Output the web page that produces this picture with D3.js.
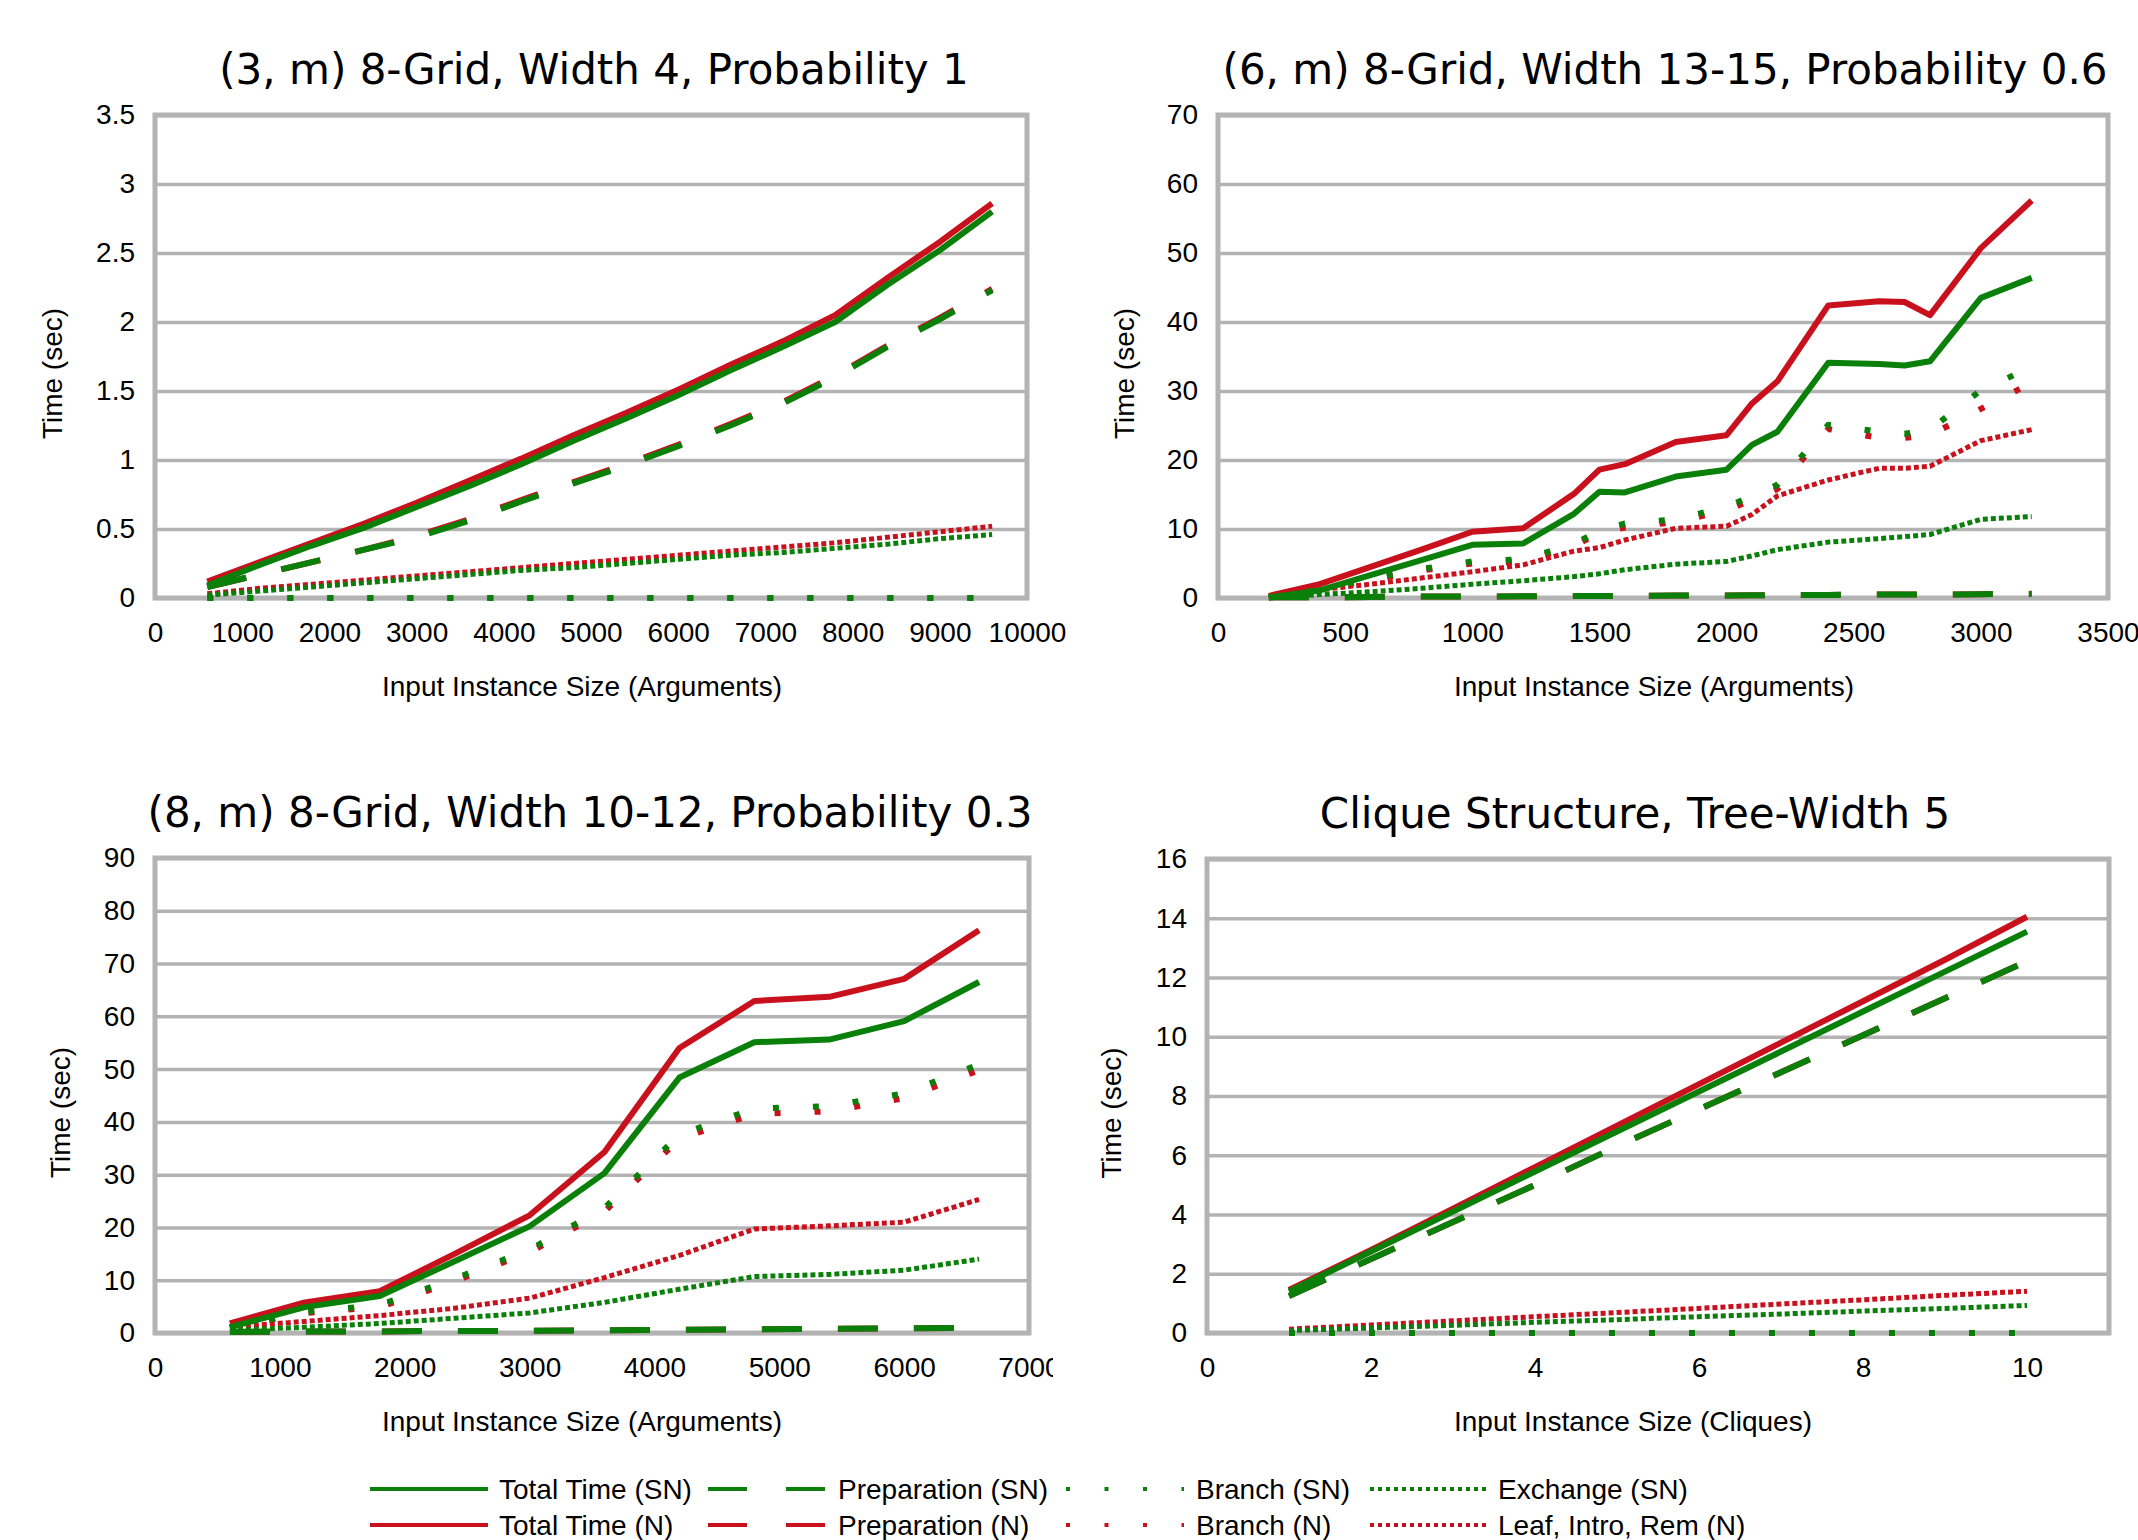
<!DOCTYPE html>
<html>
<head>
<meta charset="utf-8">
<script src="https://cdn.jsdelivr.net/npm/d3@7"></script>
<style>
  body { margin: 0; background: #fff; }
  svg { display: block; }
</style>
</head>
<body>
<svg id="chart" width="2138" height="1540"></svg>
<script>
// ---- data ----

// (3, m) 8-Grid, Width 4, Probability 1
const p1X = [600, 1200, 1800, 2400, 3000, 3600, 4200, 4800, 5400, 6000, 6600, 7200, 7800, 8400, 9000, 9600];
const p1TotalSN = [0.09, 0.24, 0.38, 0.51, 0.66, 0.81, 0.97, 1.14, 1.30, 1.47, 1.65, 1.82, 2.00, 2.27, 2.52, 2.80];
const p1TotalN = [0.12, 0.26, 0.40, 0.54, 0.69, 0.85, 1.01, 1.18, 1.34, 1.51, 1.69, 1.86, 2.05, 2.32, 2.58, 2.86];
const p1PrepSN = [0.08, 0.17, 0.26, 0.35, 0.44, 0.56, 0.70, 0.83, 0.96, 1.10, 1.25, 1.41, 1.60, 1.82, 2.02, 2.23];
const p1PrepN = [0.08, 0.17, 0.26, 0.35, 0.45, 0.57, 0.71, 0.84, 0.97, 1.11, 1.26, 1.42, 1.61, 1.83, 2.03, 2.24];
const p1BranchSN = [0, 0, 0, 0, 0, 0, 0, 0, 0, 0, 0, 0, 0, 0, 0, 0];
const p1BranchN = [0, 0, 0, 0, 0, 0, 0, 0, 0, 0, 0, 0, 0, 0, 0, 0];
const p1ExchSN = [0.02, 0.05, 0.08, 0.11, 0.14, 0.17, 0.20, 0.22, 0.25, 0.28, 0.31, 0.33, 0.36, 0.39, 0.43, 0.46];
const p1LeafN = [0.03, 0.07, 0.10, 0.13, 0.16, 0.19, 0.22, 0.25, 0.28, 0.31, 0.34, 0.37, 0.40, 0.44, 0.48, 0.52];
const p1XTicks = [0, 1000, 2000, 3000, 4000, 5000, 6000, 7000, 8000, 9000, 10000];
const p1YTicks = [0, 0.5, 1, 1.5, 2, 2.5, 3, 3.5];

// (6, m) 8-Grid, Width 13-15, Probability 0.6
const p2X = [200, 400, 600, 800, 1000, 1200, 1400, 1500, 1600, 1800, 2000, 2100, 2200, 2400, 2600, 2700, 2800, 3000, 3200];
const p2TotalSN = [0.1, 1.1, 3.3, 5.5, 7.7, 7.9, 12.2, 15.4, 15.3, 17.6, 18.6, 22.2, 24.1, 34.1, 33.9, 33.7, 34.3, 43.5, 46.4];
const p2TotalN = [0.3, 2.0, 4.5, 7.0, 9.6, 10.1, 15.1, 18.6, 19.4, 22.6, 23.6, 28.2, 31.4, 42.4, 43.0, 42.9, 41.0, 50.7, 57.6];
const p2PrepSN = [0.1, 0.1, 0.15, 0.2, 0.2, 0.25, 0.3, 0.3, 0.3, 0.35, 0.35, 0.4, 0.4, 0.45, 0.5, 0.5, 0.5, 0.55, 0.6];
const p2PrepN = [0.1, 0.1, 0.15, 0.2, 0.2, 0.25, 0.3, 0.3, 0.3, 0.35, 0.35, 0.4, 0.4, 0.45, 0.5, 0.5, 0.5, 0.55, 0.6];
const p2BranchSN = [0.1, 1.2, 2.8, 4.2, 5.3, 5.6, 7.8, 9.8, 10.8, 11.4, 13.2, 14.8, 16.4, 25.1, 24.1, 23.8, 24.4, 30.1, 33.5];
const p2BranchN = [0.1, 1.1, 2.6, 4.0, 5.0, 5.3, 7.5, 9.5, 10.2, 11.0, 12.7, 14.2, 15.8, 24.5, 23.2, 23.2, 23.6, 27.4, 31.2];
const p2ExchSN = [0.0, 0.5, 0.9, 1.4, 2.0, 2.5, 3.1, 3.5, 4.1, 4.9, 5.3, 6.1, 7.0, 8.1, 8.6, 8.9, 9.2, 11.4, 11.8];
const p2LeafN = [0.2, 1.2, 2.0, 2.9, 3.8, 4.8, 6.8, 7.3, 8.4, 10.1, 10.4, 12.1, 14.8, 17.1, 18.8, 18.8, 19.1, 22.8, 24.4];
const p2XTicks = [0, 500, 1000, 1500, 2000, 2500, 3000, 3500];
const p2YTicks = [0, 10, 20, 30, 40, 50, 60, 70];

// (8, m) 8-Grid, Width 10-12, Probability 0.3
const p3X = [600, 1200, 1800, 2400, 3000, 3600, 4200, 4800, 5400, 6000, 6600];
const p3TotalSN = [1.1, 4.9, 7.0, 13.6, 20.2, 30.3, 48.4, 55.1, 55.6, 59.1, 66.5];
const p3TotalN = [1.8, 5.8, 7.9, 15.0, 22.3, 34.3, 54.0, 62.9, 63.7, 67.1, 76.3];
const p3PrepSN = [0.2, 0.3, 0.3, 0.4, 0.4, 0.5, 0.6, 0.7, 0.8, 0.9, 1.0];
const p3PrepN = [0.2, 0.3, 0.3, 0.4, 0.4, 0.5, 0.6, 0.7, 0.8, 0.9, 1.0];
const p3BranchSN = [1.0, 4.0, 5.3, 10.3, 15.8, 23.7, 37.6, 42.5, 43.0, 45.4, 50.9];
const p3BranchN = [1.0, 3.8, 4.9, 9.8, 15.3, 23.0, 36.8, 41.5, 42.0, 44.5, 49.8];
const p3ExchSN = [0.5, 1.1, 1.8, 2.8, 3.8, 5.8, 8.3, 10.7, 11.1, 11.9, 14.0];
const p3LeafN = [1.1, 2.2, 3.3, 4.7, 6.6, 10.5, 14.7, 19.7, 20.3, 21.0, 25.3];
const p3XTicks = [0, 1000, 2000, 3000, 4000, 5000, 6000, 7000];
const p3YTicks = [0, 10, 20, 30, 40, 50, 60, 70, 80, 90];

// Clique Structure, Tree-Width 5
const p4X = [1, 2, 3, 4, 5, 6, 7, 8, 9, 10];
const p4TotalSN = [1.4, 2.75, 4.1, 5.45, 6.8, 8.15, 9.5, 10.85, 12.2, 13.55];
const p4TotalN = [1.45, 2.8, 4.2, 5.6, 7.0, 8.4, 9.8, 11.2, 12.6, 14.05];
const p4PrepSN = [1.25, 2.5, 3.75, 5.0, 6.3, 7.55, 8.8, 10.05, 11.3, 12.55];
const p4PrepN = [1.25, 2.5, 3.75, 5.0, 6.3, 7.55, 8.8, 10.05, 11.3, 12.55];
const p4BranchSN = [0, 0, 0, 0, 0, 0, 0, 0, 0, 0];
const p4BranchN = [0, 0, 0, 0, 0, 0, 0, 0, 0, 0];
const p4ExchSN = [0.08, 0.17, 0.26, 0.36, 0.45, 0.55, 0.64, 0.74, 0.83, 0.93];
const p4LeafN = [0.13, 0.27, 0.41, 0.55, 0.69, 0.83, 0.98, 1.12, 1.27, 1.41];
const p4XTicks = [0, 2, 4, 6, 8, 10];
const p4YTicks = [0, 2, 4, 6, 8, 10, 12, 14, 16];

const legendRows = [
    ["Total Time (SN)", "Preparation (SN)", "Branch (SN)", "Exchange (SN)"],
    ["Total Time (N)", "Preparation (N)", "Branch (N)", "Leaf, Intro, Rem (N)"]
];

// ---- styles ----
const GREEN = "#0a800a";
const RED = "#c9111e";
const GRID = "#b3b3b3";
const SANS = "'Liberation Sans', Arial, sans-serif";
const TITLE_FONT = "'DejaVu Sans', sans-serif";
const FS = 28;

// dash patterns for the 4 line kinds (chart / legend)
const kinds = ["total", "prep", "branch", "dense"];
const chartDash = { total: null, prep: "40,36", branch: "6,34", dense: "5,3" };
const legendDash = { total: null, prep: "39,39", branch: "4,34.5", dense: "4,4" };

const svg = d3.select("#chart");

const panels = [
    {
        title: "(3, m) 8-Grid, Width 4, Probability 1", xLabel: "Input Instance Size (Arguments)",
        left: 155, right: 1027, top: 115, bottom: 598, xMax: 10000, yMax: 3.5,
        titleX: 594, xLabelX: 582, yLabelX: 52,
        x: p1X, xTicks: p1XTicks, yTicks: p1YTicks,
        red: [p1TotalN, p1PrepN, p1BranchN, p1LeafN],
        green: [p1TotalSN, p1PrepSN, p1BranchSN, p1ExchSN]
    },
    {
        title: "(6, m) 8-Grid, Width 13-15, Probability 0.6", xLabel: "Input Instance Size (Arguments)",
        left: 1218, right: 2108, top: 115, bottom: 598, xMax: 3500, yMax: 70,
        titleX: 1665, xLabelX: 1654, yLabelX: 1124,
        x: p2X, xTicks: p2XTicks, yTicks: p2YTicks,
        red: [p2TotalN, p2PrepN, p2BranchN, p2LeafN],
        green: [p2TotalSN, p2PrepSN, p2BranchSN, p2ExchSN]
    },
    {
        title: "(8, m) 8-Grid, Width 10-12, Probability 0.3", xLabel: "Input Instance Size (Arguments)",
        left: 155, right: 1029, top: 858, bottom: 1333, xMax: 7000, yMax: 90,
        titleX: 590, xLabelX: 582, yLabelX: 60, clipRight: 1053,
        x: p3X, xTicks: p3XTicks, yTicks: p3YTicks,
        red: [p3TotalN, p3PrepN, p3BranchN, p3LeafN],
        green: [p3TotalSN, p3PrepSN, p3BranchSN, p3ExchSN]
    },
    {
        title: "Clique Structure, Tree-Width 5", xLabel: "Input Instance Size (Cliques)",
        left: 1207, right: 2109, top: 859, bottom: 1333, xMax: 11, yMax: 16,
        titleX: 1635, xLabelX: 1633, yLabelX: 1111,
        x: p4X, xTicks: p4XTicks, yTicks: p4YTicks,
        red: [p4TotalN, p4PrepN, p4BranchN, p4LeafN],
        green: [p4TotalSN, p4PrepSN, p4BranchSN, p4ExchSN]
    }
];

function drawPanel(p, i) {
    let g = svg.append("g");
    if (p.clipRight) {
        svg.append("clipPath").attr("id", "clip" + i)
            .append("rect").attr("x", 0).attr("y", p.top - 100)
            .attr("width", p.clipRight).attr("height", 700);
        g.attr("clip-path", `url(#clip${i})`);
    }

    const x = d3.scaleLinear().domain([0, p.xMax]).range([p.left, p.right]);
    const y = d3.scaleLinear().domain([0, p.yMax]).range([p.bottom, p.top]);

    // title
    g.append("text")
        .attr("x", p.titleX).attr("y", p.top - 31)
        .attr("text-anchor", "middle")
        .attr("font-family", TITLE_FONT).attr("font-size", 42)
        .text(p.title);

    // y axis with gridlines
    const yAxis = g.append("g")
        .attr("transform", `translate(${p.left},0)`)
        .call(d3.axisLeft(y).tickValues(p.yTicks)
            .tickSize(-(p.right - p.left)).tickPadding(20)
            .tickFormat(d3.format("")));
    yAxis.select(".domain").remove();
    yAxis.selectAll(".tick line").attr("stroke", GRID).attr("stroke-width", 3.5);
    yAxis.selectAll(".tick text")
        .attr("font-family", SANS).attr("font-size", FS).attr("fill", "#000");

    // x axis labels only
    const xAxis = g.append("g")
        .attr("transform", `translate(0,${p.bottom})`)
        .call(d3.axisBottom(x).tickValues(p.xTicks).tickSize(0).tickPadding(24)
            .tickFormat(d3.format("")));
    xAxis.select(".domain").remove();
    xAxis.selectAll(".tick text")
        .attr("font-family", SANS).attr("font-size", FS).attr("fill", "#000");

    // frame
    g.append("rect")
        .attr("x", p.left).attr("y", p.top)
        .attr("width", p.right - p.left).attr("height", p.bottom - p.top)
        .attr("fill", "none").attr("stroke", GRID).attr("stroke-width", 5);

    // axis titles
    g.append("text")
        .attr("x", p.xLabelX).attr("y", p.bottom + 88)
        .attr("text-anchor", "middle").attr("dominant-baseline", "central")
        .attr("font-family", SANS).attr("font-size", FS)
        .text(p.xLabel);
    const cy = (p.top + p.bottom) / 2 + 17;
    g.append("text")
        .attr("transform", `translate(${p.yLabelX},${cy}) rotate(-90)`)
        .attr("text-anchor", "middle").attr("dominant-baseline", "central")
        .attr("font-family", SANS).attr("font-size", FS)
        .text("Time (sec)");

    // series: red (N) first, green (SN) on top
    const line = d3.line().x(d => x(d[0])).y(d => y(d[1]));
    [[p.red, RED], [p.green, GREEN]].forEach(([set, color]) => {
        set.forEach((vals, k) => {
            const pts = p.x.map((xv, j) => [xv, vals[j]]);
            g.append("path")
                .attr("d", line(pts))
                .attr("fill", "none")
                .attr("stroke", color)
                .attr("stroke-width", kinds[k] === "dense" ? 5 : 6)
                .attr("stroke-linejoin", "round")
                .attr("stroke-dasharray", chartDash[kinds[k]]);
        });
    });
}

panels.forEach(drawPanel);

// ---- legend ----
const legendSampleX = [370, 708, 1066, 1370];
const legendTextX = [499, 838, 1196, 1498];
const legendY = [1489, 1525];
const legend = svg.append("g");
legendRows.forEach((row, r) => {
    const color = r === 0 ? GREEN : RED;
    row.forEach((label, k) => {
        legend.append("line")
            .attr("x1", legendSampleX[k]).attr("x2", legendSampleX[k] + 118)
            .attr("y1", legendY[r]).attr("y2", legendY[r])
            .attr("stroke", color).attr("stroke-width", 4)
            .attr("stroke-dasharray", legendDash[kinds[k]]);
        legend.append("text")
            .attr("x", legendTextX[k]).attr("y", legendY[r])
            .attr("dominant-baseline", "central")
            .attr("font-family", SANS).attr("font-size", FS)
            .text(label);
    });
});
</script>
</body>
</html>
